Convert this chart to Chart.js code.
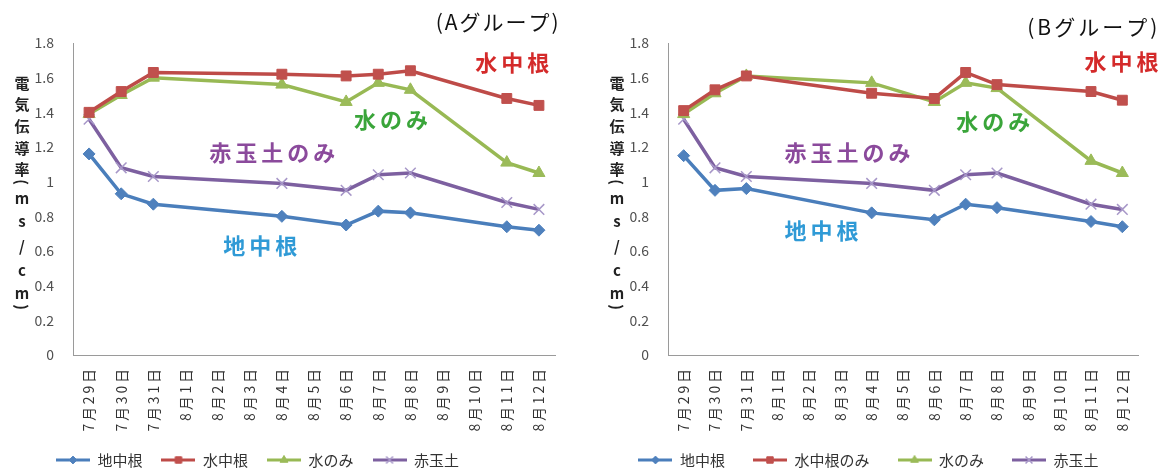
<!DOCTYPE html>
<html>
<head>
<meta charset="utf-8">
<script src="https://cdn.jsdelivr.net/npm/chart.js@4.4.0/dist/chart.umd.min.js"></script>
<style>
  body { margin: 0; background: #fff; width: 1173px; height: 470px; overflow: hidden; position: relative; }
  .box { position: absolute; top: 0; height: 470px; }
  #boxA { left: 0; width: 587px; }
  #boxB { left: 587px; width: 586px; }
</style>
</head>
<body>
<div class="box" id="boxA"><canvas id="chartA"></canvas></div>
<div class="box" id="boxB"><canvas id="chartB"></canvas></div>
<script>
// x categories (every day, only some were measured)
const dates = ["7月29日", "7月30日", "7月31日", "8月1日", "8月2日", "8月3日", "8月4日", "8月5日",
  "8月6日", "8月7日", "8月8日", "8月9日", "8月10日", "8月11日", "8月12日"];
const yTicks = [0, 0.2, 0.4, 0.6, 0.8, 1, 1.2, 1.4, 1.6, 1.8];

// A group
const aJichu = [1.16, 0.93, 0.87, null, null, null, 0.80, null, 0.75, 0.83, 0.82, null, null, 0.74, 0.72];
const aSuichu = [1.40, 1.52, 1.63, null, null, null, 1.62, null, 1.61, 1.62, 1.64, null, null, 1.48, 1.44];
const aMizu = [1.39, 1.50, 1.60, null, null, null, 1.56, null, 1.46, 1.57, 1.53, null, null, 1.11, 1.05];
const aAkadama = [1.36, 1.08, 1.03, null, null, null, 0.99, null, 0.95, 1.04, 1.05, null, null, 0.88, 0.84];

// B group
const bJichu = [1.15, 0.95, 0.96, null, null, null, 0.82, null, 0.78, 0.87, 0.85, null, null, 0.77, 0.74];
const bSuichu = [1.41, 1.53, 1.61, null, null, null, 1.51, null, 1.48, 1.63, 1.56, null, null, 1.52, 1.47];
const bMizu = [1.39, 1.51, 1.61, null, null, null, 1.57, null, 1.46, 1.57, 1.54, null, null, 1.12, 1.05];
const bAkadama = [1.36, 1.08, 1.03, null, null, null, 0.99, null, 0.95, 1.04, 1.05, null, null, 0.87, 0.84];

const legendA = ["地中根", "水中根", "水のみ", "赤玉土"];
const legendB = ["地中根", "水中根のみ", "水のみ", "赤玉土"];

const FONT = "'Noto Sans CJK JP', 'Noto Sans', sans-serif";

// series look: line colour, marker colour, marker
const styles = [
  { line: "#4a7ebb", mark: "#4f81bd", point: "rectRot", r: 6, bw: 1 },
  { line: "#be4b48", mark: "#c0504d", point: "rect", r: 7, bw: 1 },
  { line: "#98b954", mark: "#9bbb59", point: "triangle", r: 7, bw: 1 },
  { line: "#7d60a0", mark: "#a797c8", point: "crossRot", r: 7.5, bw: 1.5 }
];

// small picture (line + marker) used as legend symbol
function legendIcon(s) {
  const c = document.createElement("canvas");
  c.width = 34; c.height = 14;
  const ctx = c.getContext("2d");
  ctx.strokeStyle = s.line;
  ctx.lineWidth = 3;
  ctx.beginPath(); ctx.moveTo(0, 7); ctx.lineTo(34, 7); ctx.stroke();
  ctx.fillStyle = s.mark;
  ctx.strokeStyle = s.mark;
  ctx.lineWidth = s.bw;
  Chart.helpers.drawPoint(ctx, { pointStyle: s.point, radius: s.r * 0.65, rotation: 0, borderWidth: s.bw }, 17, 7);
  return c;
}

// labels inside the plot + the stacked axis title
const textPlugin = {
  id: "texts",
  afterDraw(chart, args, opts) {
    const ctx = chart.ctx, xs = chart.scales.x, ys = chart.scales.y;
    ctx.save();
    ctx.textAlign = "center";
    ctx.textBaseline = "middle";
    opts.labels.forEach(l => {
      ctx.font = l.font;
      ctx.fillStyle = l.color;
      ctx.letterSpacing = (l.sp || 0) + "px";
      ctx.fillText(l.text, xs.getPixelForValue(l.at[0]) + (l.sp || 0) / 2, ys.getPixelForValue(l.at[1]));
    });
    ctx.letterSpacing = "0px";
    // y title, one character per row; brackets turned sideways
    ctx.font = "bold 15px " + FONT;
    ctx.fillStyle = "#222";
    const chars = ["電", "気", "伝", "導", "率", "(", "m", "s", "/", "c", "m", ")"];
    const rows = [83, 104, 126, 148, 169, 182, 198, 221, 246, 270, 293, 307];
    chars.forEach((ch, i) => {
      ctx.save();
      ctx.translate(opts.titleX, rows[i]);
      if (ch === "(" || ch === ")") ctx.rotate(Math.PI / 2);
      ctx.fillText(ch, 0, 0);
      ctx.restore();
    });
    ctx.restore();
  }
};

// fixed legend height, and the legend row moved where it sits in the picture
const legendShift = {
  id: "legendShift",
  beforeLayout(chart, args, opts) {
    const lg = chart.legend;
    if (!lg._fixed) {
      const fit = lg.fit.bind(lg);
      lg.fit = function () { fit(); this.height = opts.h; };
      lg._fixed = true;
    }
  },
  afterLayout(chart, args, opts) {
    const lg = chart.legend;
    lg.left += opts.dx; lg.right += opts.dx;
    lg.top = opts.cy - lg.options.labels.padding - 7.5;
    lg.bottom = chart.height;
  }
};

function makeChart(id, series, names, cfg) {
  const datasets = series.map((d, i) => ({
    label: names[i],
    data: d,
    borderColor: styles[i].line,
    backgroundColor: styles[i].mark,
    pointBorderColor: styles[i].mark,
    pointBackgroundColor: styles[i].mark,
    pointStyle: styles[i].point,
    pointRadius: styles[i].r,
    pointBorderWidth: styles[i].bw,
    borderWidth: 3.5,
    spanGaps: true,
    tension: 0
  }));
  return new Chart(document.getElementById(id), {
    type: "line",
    data: { labels: dates, datasets: datasets },
    plugins: [textPlugin, legendShift],
    options: {
      responsive: true,
      maintainAspectRatio: false,
      animation: false,
      layout: { padding: { top: 43, right: cfg.right, left: 0, bottom: 0 } },
      scales: {
        x: {
          offset: true,
          grid: { display: false },
          border: { color: "#9a9a9a", width: 1 },
          ticks: {
            autoSkip: false, minRotation: 90, maxRotation: 90, padding: 6,
            color: "#333", font: { family: FONT, size: 14 },
            callback: (v, i) => dates[i].split("").join("\u2009")
          },
          afterFit: s => { s.height = 80; }
        },
        y: {
          min: 0, max: 1.8,
          afterBuildTicks: s => { s.ticks = yTicks.map(v => ({ value: v })); },
          grid: { display: false },
          border: { color: "#9a9a9a", width: 1 },
          ticks: {
            padding: 11, color: "#505050", font: { family: FONT, size: 14 },
            callback: v => String(Math.round(v * 10) / 10)
          },
          afterFit: s => { s.width = cfg.yWidth; }
        }
      },
      plugins: {
        legend: {
          position: "bottom",
          labels: {
            usePointStyle: true,
            pointStyleWidth: 34,
            padding: cfg.legendPad,
            color: "#333",
            font: { family: FONT, size: 15 },
            generateLabels: chart => chart.data.datasets.map((ds, i) => ({
              text: ds.label, pointStyle: legendIcon(styles[i]), datasetIndex: i,
              fillStyle: ds.borderColor, strokeStyle: ds.borderColor, lineWidth: 0, fontColor: "#333"
            }))
          }
        },
        legendShift: { dx: cfg.dx, cy: 460, h: 35 },
        tooltip: { enabled: false },
        texts: { titleX: cfg.titleX, labels: cfg.labels }
      }
    }
  });
}

const big = "bold 22px " + FONT;
const head = "21px " + FONT;
makeChart("chartA", [aJichu, aSuichu, aMizu, aAkadama], legendA, {
  yWidth: 73, right: 32, titleX: 22, dx: -20, legendPad: 19,
  labels: [
    { text: "(Aグループ)", at: [12.7, 1.92], font: head, color: "#111", sp: 2 },
    { text: "水中根", at: [13.17, 1.685], font: big, color: "#d42a2a", sp: 4 },
    { text: "水のみ", at: [9.4, 1.356], font: big, color: "#3aa53a", sp: 4 },
    { text: "赤玉土のみ", at: [5.7, 1.166], font: big, color: "#8b4a9c", sp: 4 },
    { text: "地中根", at: [5.33, 0.63], font: big, color: "#2f9ad6", sp: 4 }
  ]
});
makeChart("chartB", [bJichu, bSuichu, bMizu, bAkadama], legendB, {
  yWidth: 81, right: 35, titleX: 30, dx: 6, legendPad: 28,
  labels: [
    { text: "(Bグループ)", at: [13.04, 1.89], font: head, color: "#111", sp: 3 },
    { text: "水中根", at: [13.97, 1.69], font: big, color: "#d42a2a", sp: 4 },
    { text: "水のみ", at: [9.88, 1.345], font: big, color: "#3aa53a", sp: 4 },
    { text: "赤玉土のみ", at: [5.23, 1.166], font: big, color: "#8b4a9c", sp: 4 },
    { text: "地中根", at: [4.4, 0.72], font: big, color: "#2f9ad6", sp: 4 }
  ]
});
</script>
</body>
</html>
